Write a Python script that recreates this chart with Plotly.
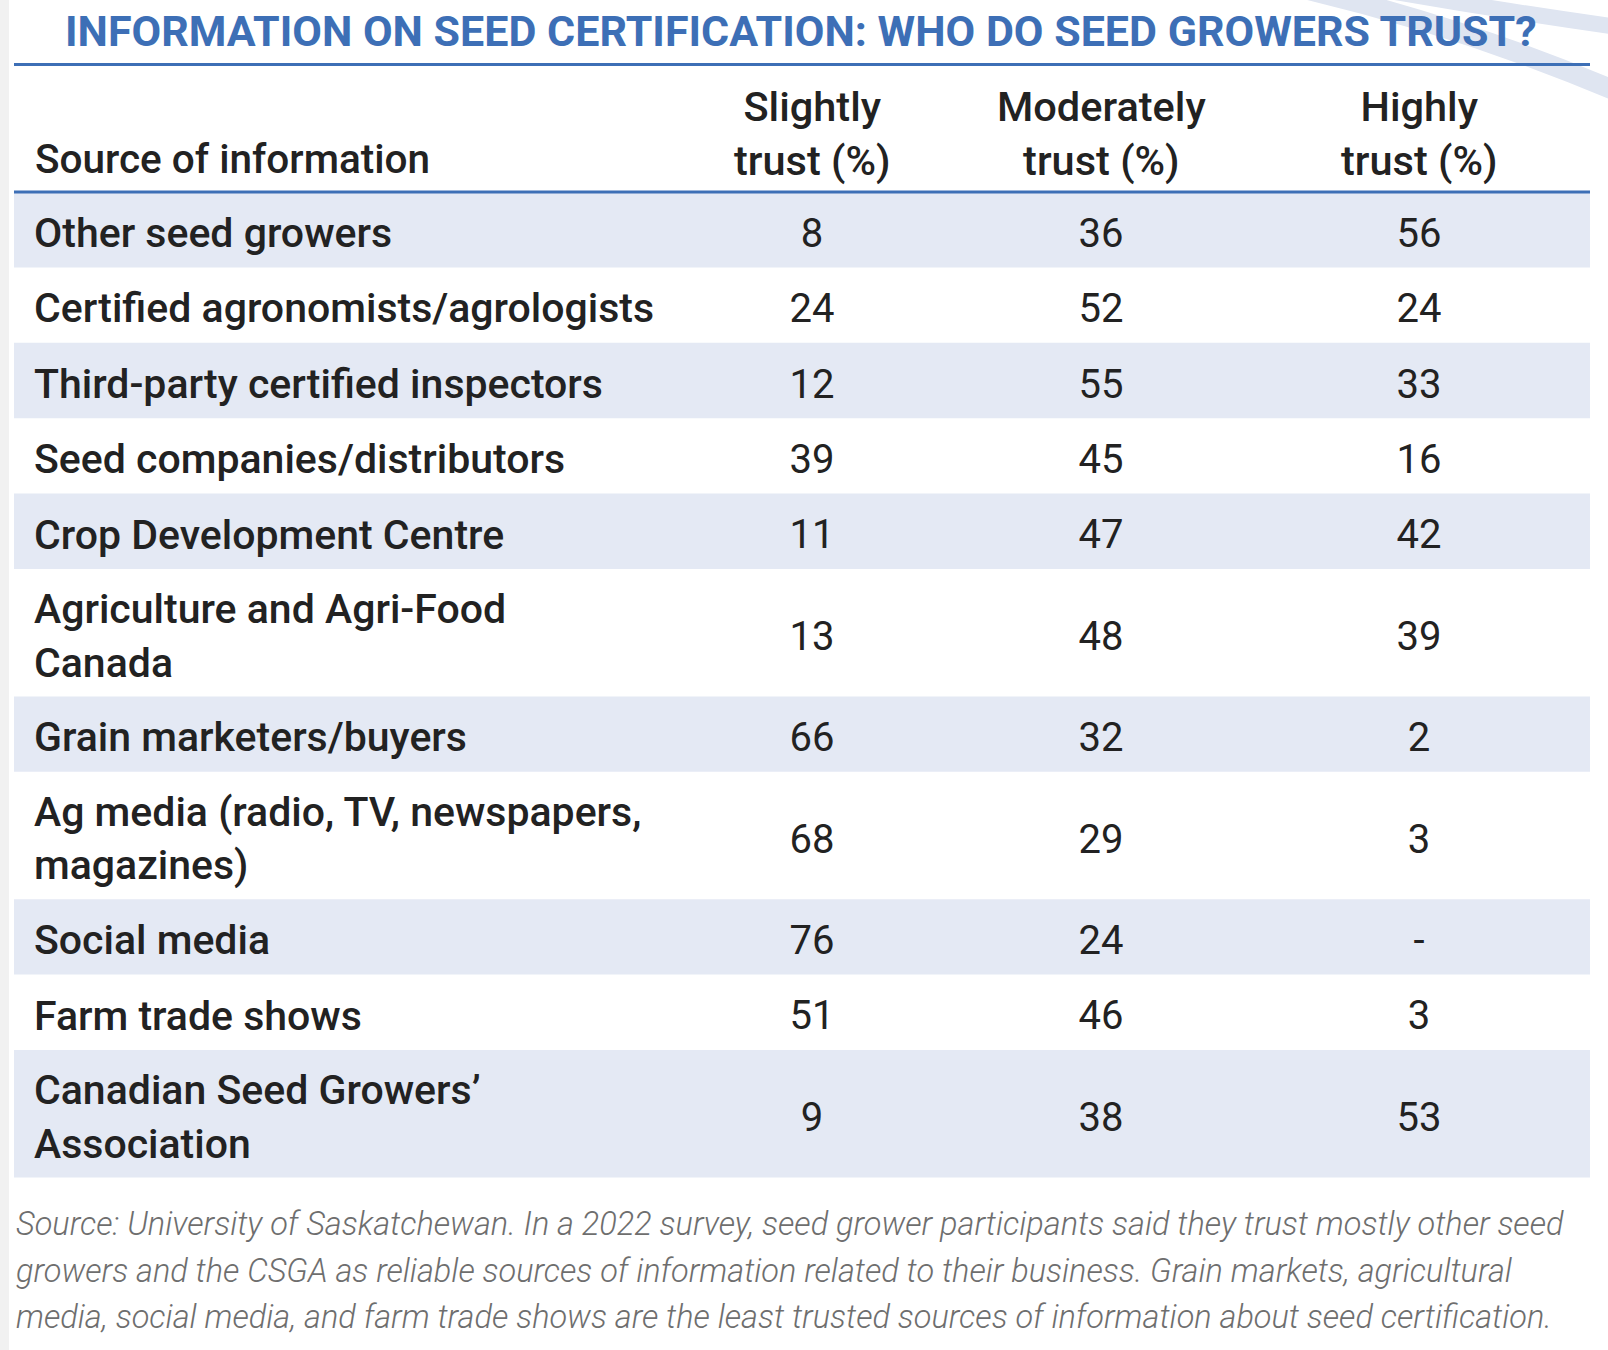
import plotly.graph_objects as go

# ---------------- data ----------------
sources = [
    "Other seed growers",
    "Certified agronomists/agrologists",
    "Third-party certified inspectors",
    "Seed companies/distributors",
    "Crop Development Centre",
    "Agriculture and Agri-Food<br>Canada",
    "Grain marketers/buyers",
    "Ag media (radio, TV, newspapers,<br>magazines)",
    "Social media",
    "Farm trade shows",
    "Canadian Seed Growers’<br>Association",
]
slightly = [8, 24, 12, 39, 11, 13, 66, 68, 76, 51, 9]
moderately = [36, 52, 55, 45, 47, 48, 32, 29, 24, 46, 38]
highly = [56, 24, 33, 16, 42, 39, 2, 3, None, 3, 53]

title = "INFORMATION ON SEED CERTIFICATION: WHO DO SEED GROWERS TRUST?"
header_first = "Source of information"
col_headers = ["Slightly<br>trust (%)", "Moderately<br>trust (%)", "Highly<br>trust (%)"]
footer_lines = [
    "Source: University of Saskatchewan. In a 2022 survey, seed grower participants said they trust mostly other seed",
    "growers and the CSGA as reliable sources of information related to their business. Grain markets, agricultural",
    "media, social media, and farm trade shows are the least trusted sources of information about seed certification.",
]

# ---------------- layout constants ----------------
W, H = 1608, 1350
BLUE = "#3d6fb6"
BAND = "#e4e9f4"
SWOOSH = "#dfe5f1"
TXT = "#222222"
FONT = "Roboto"
TABLE_X0, TABLE_X1 = 14, 1590
LABEL_X = 34
COL_X = [812, 1101, 1419]
TITLE_Y = 31
TITLE_LINE_Y = 64.5
HEADER_Y = 133
HEADER_LINE_Y = 192
ROW_BASE = 75.4
EXTRA_LINE = 52
TEXT_DY = 7
FOOTER_Y0 = 1224
FOOTER_DY = 46.5

# row geometry from label line counts
row_top, row_bot, row_mid = [], [], []
y = HEADER_LINE_Y
for s in sources:
    h = ROW_BASE + EXTRA_LINE * (s.count("<br>"))
    row_top.append(y)
    row_bot.append(y + h)
    row_mid.append(y + h / 2)
    y += h
text_y = [m + TEXT_DY for m in row_mid]

fig = go.Figure()

shapes = []
# decorative swooshes top-right
shapes.append(dict(type="path", path="M 1300 -12 Q 1470 28 1625 95",
                   line=dict(color=SWOOSH, width=20), layer="below"))
shapes.append(dict(type="path", path="M 1395 -8 Q 1510 12 1625 28",
                   line=dict(color=SWOOSH, width=16), layer="below"))
# faint left edge
shapes.append(dict(type="rect", x0=0, x1=9, y0=0, y1=H, line=dict(width=0),
                   fillcolor="#f1f1f1", layer="below"))
# row bands
for i in range(len(sources)):
    if i % 2 == 0:
        shapes.append(dict(type="rect", xref="x", yref="y", x0=TABLE_X0, x1=TABLE_X1,
                           y0=row_top[i], y1=row_bot[i], line=dict(width=0),
                           fillcolor=BAND, layer="below"))
# rules
shapes.append(dict(type="line", x0=TABLE_X0, x1=TABLE_X1, y0=TITLE_LINE_Y, y1=TITLE_LINE_Y,
                   line=dict(color=BLUE, width=3)))
shapes.append(dict(type="line", x0=TABLE_X0, x1=TABLE_X1, y0=HEADER_LINE_Y, y1=HEADER_LINE_Y,
                   line=dict(color=BLUE, width=3)))

# labels
fig.add_trace(go.Scatter(
    x=[LABEL_X] * len(sources), y=text_y, mode="text", text=sources,
    textposition="middle right",
    textfont=dict(family=FONT, size=41, color=TXT, weight=500),
    hoverinfo="skip", showlegend=False, cliponaxis=False))

# value columns
for cx, vals in zip(COL_X, [slightly, moderately, highly]):
    fig.add_trace(go.Scatter(
        x=[cx] * len(vals), y=text_y, mode="text",
        text=["-" if v is None else str(v) for v in vals],
        textposition="middle center",
        textfont=dict(family=FONT, size=40, color=TXT, weight=400),
        hoverinfo="skip", showlegend=False, cliponaxis=False))

annotations = []
annotations.append(dict(x=801, y=TITLE_Y, text=title, showarrow=False, xanchor="center",
                        yanchor="middle", font=dict(family=FONT, size=43, color=BLUE, weight=700)))
annotations.append(dict(x=LABEL_X - 1, y=159, text=header_first, showarrow=False, xanchor="left",
                        yanchor="middle", font=dict(family=FONT, size=40.5, color=TXT, weight=500)))
for cx, t in zip(COL_X, col_headers):
    annotations.append(dict(x=cx, y=HEADER_Y, text=t, showarrow=False, xanchor="center",
                            yanchor="middle", align="center",
                            font=dict(family=FONT, size=41.5, color=TXT, weight=500)))
for k, line in enumerate(footer_lines):
    annotations.append(dict(x=14, y=FOOTER_Y0 + k * FOOTER_DY, text=line, showarrow=False,
                            xanchor="left", yanchor="middle",
                            font=dict(family=FONT, size=32.5, color="#6e6e6e", weight=300,
                                      style="italic")))

fig.update_layout(
    width=W, height=H, margin=dict(l=0, r=0, t=0, b=0),
    paper_bgcolor="white", plot_bgcolor="white",
    xaxis=dict(range=[0, W], visible=False, fixedrange=True),
    yaxis=dict(range=[H, 0], visible=False, fixedrange=True),
    shapes=shapes, annotations=annotations,
)

fig.write_html("out.html", config={"displayModeBar": False},
               post_script="document.body.style.margin='0px';")
